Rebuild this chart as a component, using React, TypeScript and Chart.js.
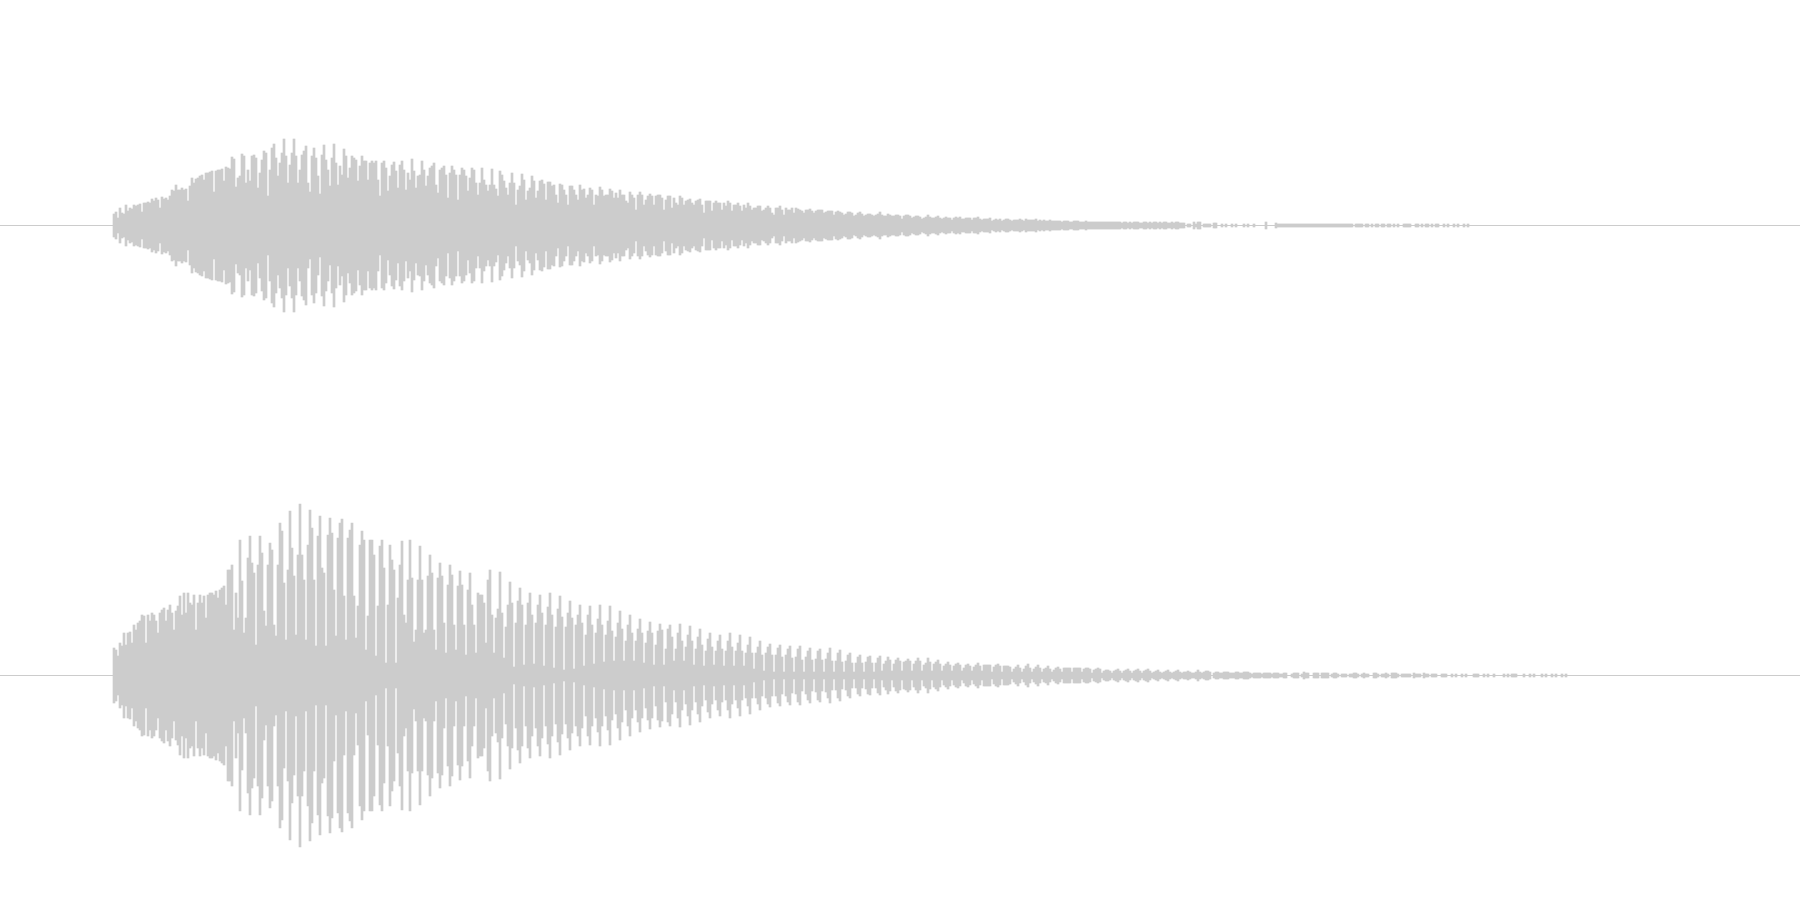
import React, { useEffect, useRef } from "react";
import { Chart, registerables } from "chart.js";

Chart.register(...registerables);

const TOP_A = [11,13,7,17,12,11,20,14,17,16,20,19,20,21,13,22,22,23,22,26,24,27,25,17,28,26,27,25,29,35,34,40,35,35,37,35,36,24,39,47,42,46,47,49,50,45,52,52,53,54,33,54,55,55,56,44,58,57,56,68,66,38,47,49,71,69,42,55,44,69,70,67,37,52,65,74,72,29,55,77,81,67,49,62,72,86,69,42,60,72,86,69,42,55,70,74,79,42,33,69,77,67,49,31,70,80,65,55,39,67,81,62,40,59,50,76,69,47,57,69,67,65,44,59,69,64,64,45,62,64,62,64,45,29,62,64,57,34,49,60,63,54,37,60,64,55,35,52,45,66,54,37,49,50,64,55,39,49,57,59,62,40,32,55,57,59,50,27,52,59,55,50,25,50,57,55,49,34,47,57,55,42,30,42,57,45,40,34,40,56];
const TOP_B = [35,40,36,29,54,50,44,37,30,42,52,42,20,35,39,51,45,25,34,37,49,44,27,34,44,45,41,25,43,43,39,40,30,22,41,40,35,30,20,39,39,35,30,25,40,35,36,27,30,37,35,20,30,29,38,35,29,30,30,36,34,27,32,27,35,30,30,24,22,33,30,27,15,30,33,30,20,25,29,31,29,20,29,30,30,27,15,25,29,29,17,27,22,20,29,27,20,24,25,26,22,20,24,25,26,20,12,24,24,24,14,22,24,22,22,15,22,19,24,22,14,20,20,22,19,14,20,17,22,19,15,17,17,19,19,14,15,17,19,17,12,10,17,17,19,15,10,17,15,15,17,12,17,16,15,14,12,15,15,16,14,12,14,15,15,15,12,13,14,14,14,10,13,14,13,12,10,11,13,13,12,9,10,12,13,11,9,10,11,11,10,9,10,11,13];
const TOP_C = [10.5,9.5,9,11,10,9,9,10,10,9,6,9,10,10,9,7,8,9,9,8,6,7,8,10,8,7,7,8,9,7,6,7,8,7,7,5,7,8,7,8,6,6,7,7,7,5,7,7,8,6,5,6,6,6,7,4,5,6,5,6,4,5,6,6,5,4,5,5,5,6,5,4,6,5,5,5,5,6,4,5,4,5,4,4,5,4,4,4,4,4,3,4,4,4,3,3,4,4,4,3,3,3,4,3,3,3,3,3,3,3,3,3,3,3,3,3,3,3,3,3,2.5,3,3,2.5,3,2.5,3,3,3,2.5,2.5,3,3,2.5,3,2.5,3,3,2.5,3,2.5,3,3,2.5,2.5,3,2.5,3,3,2.5];
const TOP_D = [2.5,2.5,0,1.5,1.5,0,3.5,1,3,3,0,1.5,1.5,1.5,1.5,0,2.5,2.5,0,0,1.5,0,1.5,0,0,1.5,0,1.5,0,0,0,1.5,0,1.5,0,0,1.5,0,0,0,0,0,3,0,0,0,0,2.5,1.5,1.5,1.5,1.5,1.5,1.5,1.5,1.5,1.5,1.5,1.5,1.5,1.5,1.5,1.5,1.5,1.5,1.5,1.5,1.5,1.5,1.5,1.5,1.5,1.5,1.5,1.5,1.5,1.5,1.5,1.5,1.5,1.5,1.5,1.5,1.5,1.5,1.5,0,1.5,1.5,1.5,1.5,0,1.5,1.5,0,1.5,0,1.5,1.5,0,1.5,1.5,0,1.5,1.5,0,1.5,0,1.5,0,0,1.5,1.5,1.5,1.5,0,0,1.5,1.5,0,1.5,0,1.5,1.5,0,1.5,0,1.5,1.5,0,0,1.5,0,1.5,0,0,1.5,0,1.5,0,0,1.5,0,1.5];

const BOTTOM_A = [27,25,19,32,29,42,30,42,43,32,50,45,52,54,60,59,32,60,54,62,60,54,42,62,65,67,54,65,70,62,45,64,69,79,60,82,62,82,72,70,80,45,72,80,72,79,57,80,82,82,80,84,77,85,87,89,70,105,105,110,45,82,57,135,94,42,57,117,139,112,102,30,110,139,122,64,49,110,132,125,50,39,110,152,144,92,35,105,164,127,99,40,120,171,120,95,35,130,165,147,95,29,139,159,107,102,29,140,157,142,85,39,137,152,156,79,35,137,145,152,79,37,69,130,144,135,25,59,135,135,120,19,69,129,135,107,12,70,130,115,105,12,77,110,134,60,52,95,135,97,33,45,95,129,95,42,45,99,120,102,45,25,97,112,99,52,22,90,110,100,50,25,89,104,90,50,20,85,102,70,50,22,82,80,80,72,32,95,105];
const BOTTOM_B = [60,22,57,66,103,62,17,48,70,93,72,8,52,74,87,70,10,50,72,82,60,11,52,70,80,62,9,50,68,82,60,7,48,66,79,58,5,48,62,74,57,6,50,60,70,52,9,40,60,69,50,11,42,56,70,50,13,40,54,69,44,14,38,52,64,46,14,34,50,60,42,14,34,46,56,42,12,32,44,53,42,10,30,44,51,45,10,26,46,50,38,14,26,42,51,34,14,28,40,49,34,10,26,38,46,30,9,24,36,42,28,10,24,34,40,26,9,24,34,42,28,9,24,32,40,24,9,22,30,38,22,6,22,28,34,20,4,22,28,31,20,3,20,27,30,18,3,20,26,29,17,3,18,26,29,15,3,18,24,27,15,3,16,24,26,15,3,16,22,27,14,3,14,22,25,13,3,14,20,22,12,3,12,18,20,12,3,13,18,19,12,3,12,17,19];
const BOTTOM_C = [4,11,14,18,15,4,11,15,17,14,4,13,14,16,14,4,11,14,17,14,4,10,12,17,13,4,11,13,15,11,4,9,11,13,10,4,9,11,12,10,4,7,10,11,9,4,8,10,12,9,4,10,10,10,10,3,8,10,11,9,3,9,9,9,8,3,6,8,10,7,3,6,9,11,7,3,6,8,10,7,3,6,7,9,6,3,5,7,8,6,3,7,7,7,7,3,7,7,7,7,3,6,7,7,6,2,5,6,7,6,2,4,5,5,4,2,4,5,6,4,2,4,5,6,4,2,4,5,6,4,2,4,5,6,4,2,3,4,5,3,2,3,4,5,3,2,3,4,5,3,2,3,3,4,3,2,2,3,5,3,2,3,4,4,3,0,2,3,3,2,2,3,3,3,2,2,2,3,3,2,2,3,3,3,2,1.5,2,2,2,2,1.5,2,2,2,2,1.5,2,2,2,1.5];
const BOTTOM_D = [1.5,2,2,0,0,1.5,2.5,2.5,2.5,0,1.5,3,2.5,2,0,0,2.5,2.5,2.5,0,2.5,2.5,2.5,2.5,0,1.5,2.5,2.5,1.5,0,1.5,1.5,1.5,0,1.5,1.5,2,2,1.5,0,1.5,2,1.5,1.5,0,0,2,2,1.5,0,1.5,1.5,2,1.5,0,2,2,2.5,1.5,0,1.5,1.5,1.5,1.5,1.5,0,2.5,1.5,1.5,1.5,0,2.5,1.5,1.5,0,1.5,1.5,1.5,0,0,1.5,1.5,1.5,0,0,1.5,0,1.5,0,0,1.5,0,1.5,0,0,0,1.5,1.5,1.5,0,0,1.5,0,1.5,0,0,1.5,0,0,0,0,1.5,0,1,0,1.5,1,1.5,0,0,0,1.5,0,0,1.5,0,1.5,0,0,0,1,0,1.5,0,0,1.5,0,1.5,0,0,1.5,0,1.5];

const TOP_SEGMENTS: [number, number[]][] = [[113, TOP_A], [491, TOP_B], [881, TOP_C], [1181, TOP_D]];
const BOTTOM_SEGMENTS: [number, number[]][] = [[113, BOTTOM_A], [491, BOTTOM_B], [881, BOTTOM_C], [1281, BOTTOM_D]];

const TOP_CENTER = 225.5;
const BOTTOM_CENTER = 675.5;
const WIDTH = 1800;
const HEIGHT = 900;
const GREY = "#cccccc";

function columns(segments: [number, number[]][], center: number) {
  const out: { x: number; y: [number, number] }[] = [];
  for (const [start, amps] of segments) {
    amps.forEach((a, i) => {
      if (a > 0) out.push({ x: start + 2 * i + 1, y: [Math.floor(center - a), Math.ceil(center + a)] });
    });
  }
  return out;
}

export default function App() {
  const ref = useRef<HTMLCanvasElement>(null);
  useEffect(() => {
    const bar = (data: unknown[]) => ({
      type: "bar" as const,
      data,
      backgroundColor: GREY,
      borderWidth: 0,
      barThickness: 2,
      grouped: false,
    });
    const line = (y: number) => ({
      type: "line" as const,
      data: [{ x: 0, y }, { x: WIDTH, y }],
      borderColor: GREY,
      borderWidth: 1,
      pointRadius: 0,
    });
    const chart = new Chart(ref.current!, {
      type: "bar",
      data: {
        datasets: [
          line(TOP_CENTER),
          line(BOTTOM_CENTER),
          bar(columns(TOP_SEGMENTS, TOP_CENTER)),
          bar(columns(BOTTOM_SEGMENTS, BOTTOM_CENTER)),
        ] as any,
      },
      options: {
        responsive: false,
        animation: false,
        layout: { padding: 0 },
        plugins: { legend: { display: false }, tooltip: { enabled: false }, title: { display: false } },
        scales: {
          x: { type: "linear", min: 0, max: WIDTH, offset: false, display: false },
          y: { type: "linear", min: 0, max: HEIGHT, reverse: true, display: false },
        },
      },
    });
    return () => chart.destroy();
  }, []);
  return (
    <div style={{ position: "fixed", left: 0, top: 0, width: WIDTH, height: HEIGHT, background: "#ffffff" }}>
      <canvas ref={ref} width={WIDTH} height={HEIGHT} style={{ display: "block" }} />
    </div>
  );
}
